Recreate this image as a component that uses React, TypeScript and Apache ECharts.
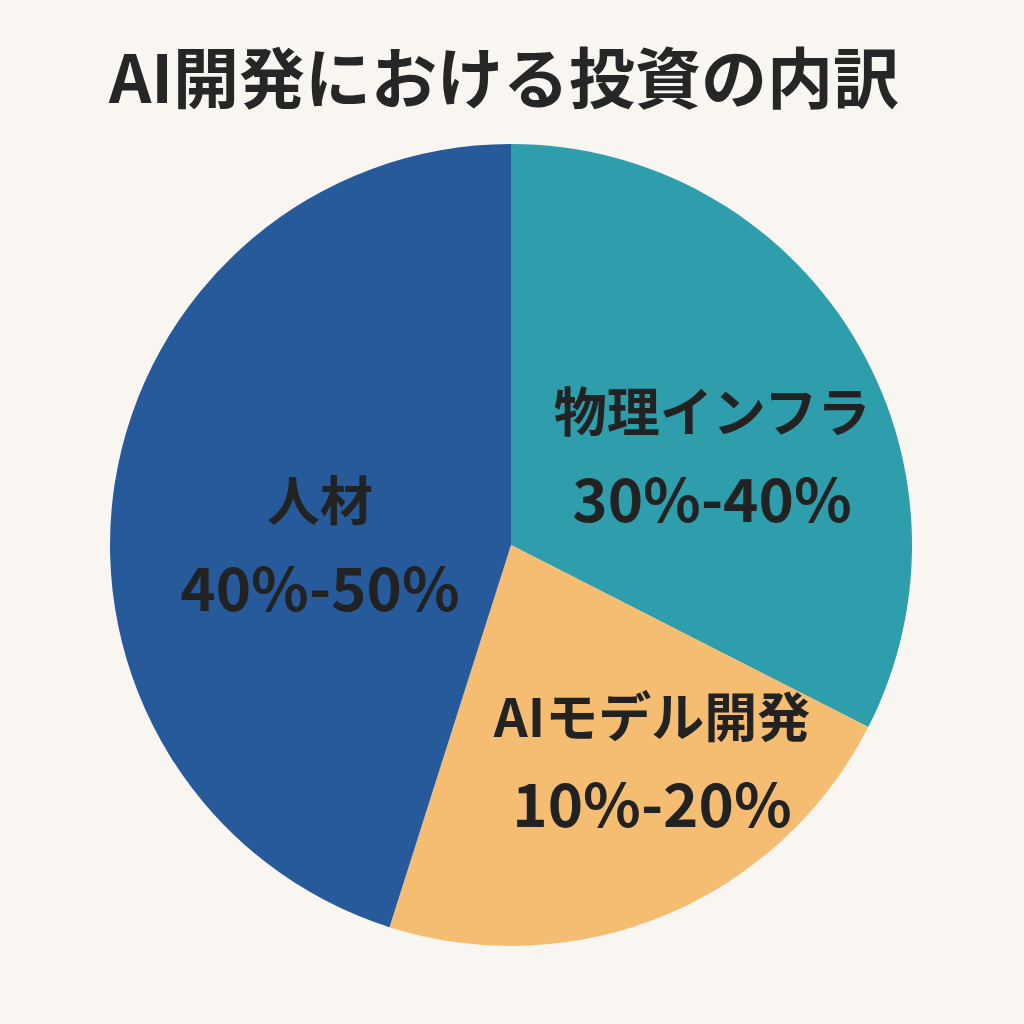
import { useEffect, useRef } from "react";
import * as echarts from "echarts";

const TITLE = "AI開発における投資の内訳";
const CATEGORIES = ["物理インフラ", "AIモデル開発", "人材"];
const RANGES = ["30%-40%", "10%-20%", "40%-50%"];
const SHARES = [32.5, 22.4, 45.1];
const COLORS = ["#2E9EAC", "#F4BD72", "#275A9A"];

// where each label block sits (centre), in pixels
const LABEL_POS: [number, number][] = [
  [712, 452],
  [652, 757],
  [320, 541],
];

export default function App() {
  const ref = useRef<HTMLDivElement>(null);

  useEffect(() => {
    if (!ref.current) return;
    document.body.style.margin = "0";
    const chart = echarts.init(ref.current, null, { renderer: "svg" });

    chart.setOption({
      animation: false,
      backgroundColor: "#F9F6F2",
      title: {
        text: TITLE,
        left: 104,
        top: 36,
        textStyle: {
          fontFamily: "Noto Sans CJK JP",
          fontWeight: "bold",
          fontSize: 66,
          color: "#262626",
        },
      },
      series: [
        {
          type: "pie",
          center: [511, 545],
          radius: 401,
          startAngle: 90,
          clockwise: true,
          data: CATEGORIES.map((name, i) => ({
            name,
            value: SHARES[i],
            itemStyle: { color: COLORS[i] },
          })),
          label: {
            show: true,
            position: "inside",
            formatter: (p: any) => `{n|${p.name}}\n{v|${RANGES[p.dataIndex]}}`,
            rich: {
              n: {
                fontFamily: "Noto Sans CJK JP",
                fontWeight: "bold",
                fontSize: 53,
                color: "#222222",
                lineHeight: 86,
              },
              v: {
                fontFamily: "Noto Sans CJK JP",
                fontWeight: "bold",
                fontSize: 60,
                color: "#222222",
                lineHeight: 86,
              },
            },
          },
          labelLine: { show: false },
          labelLayout: (p: any) => {
            const [x, y] = LABEL_POS[p.dataIndex];
            return { x, y, align: "center", verticalAlign: "middle" };
          },
          emphasis: { disabled: true },
        },
      ],
    });

    return () => chart.dispose();
  }, []);

  return (
    <div
      ref={ref}
      style={{ position: "absolute", left: 0, top: 0, width: 1024, height: 1024 }}
    />
  );
}
